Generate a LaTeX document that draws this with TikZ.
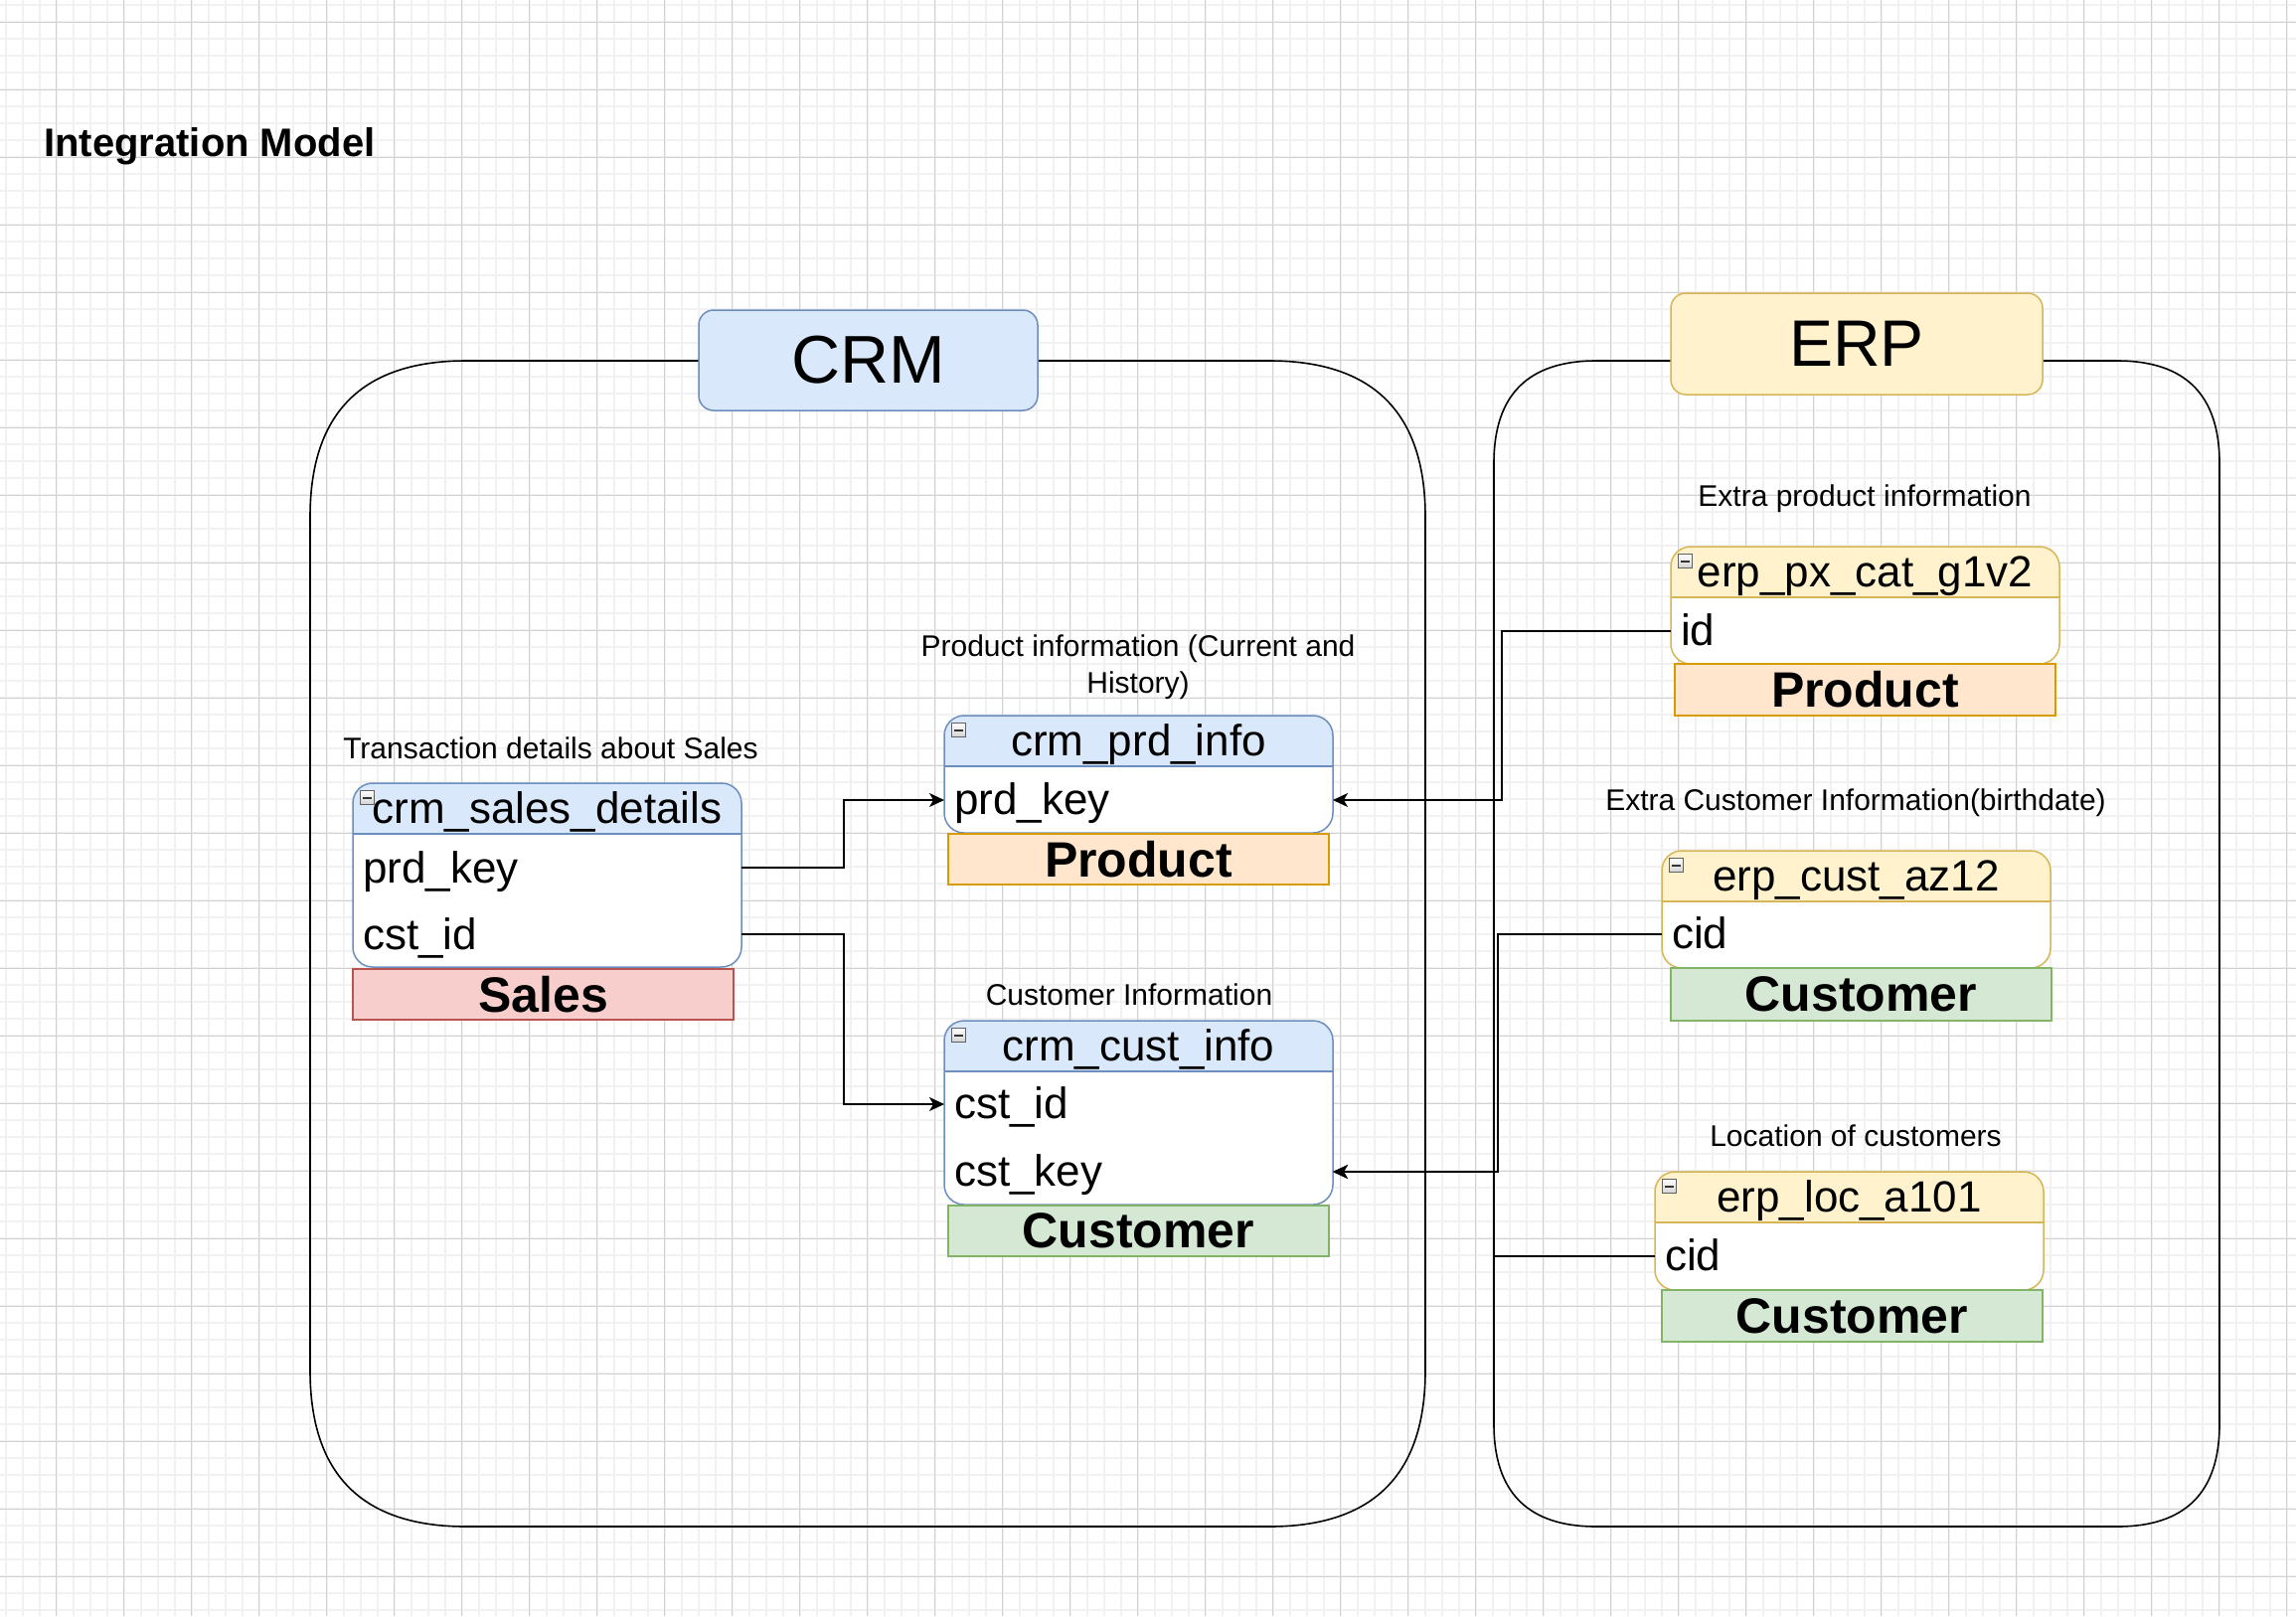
\documentclass[tikz,border=0pt]{standalone}
\usepackage{fontspec}
\setmainfont{Liberation Sans}
\usetikzlibrary{arrows.meta}
\definecolor{gridminor}{HTML}{F1F1F1}
\definecolor{gridmajor}{HTML}{D2D2D2}
\definecolor{crmfill}{HTML}{DAE8FC}
\definecolor{crmdraw}{HTML}{6C8EBF}
\definecolor{erpfill}{HTML}{FFF2CC}
\definecolor{erpdraw}{HTML}{D6B656}
\definecolor{prodfill}{HTML}{FFE6CC}
\definecolor{proddraw}{HTML}{D79B00}
\definecolor{custfill}{HTML}{D5E8D4}
\definecolor{custdraw}{HTML}{82B366}
\definecolor{salesfill}{HTML}{F8CECC}
\definecolor{salesdraw}{HTML}{B85450}
\tikzset{
  grmin/.style={draw=gridminor, line width=2pt},
  grmaj/.style={draw=gridmajor, line width=1.2pt},
  container/.style={draw=black, line width=1.6pt},
  sysbox/.style={rounded corners=15pt, line width=1.5pt, inner sep=0pt, outer sep=0pt},
  hdrtxt/.style={font=\fontsize{44}{50}\selectfont, inner sep=0pt, anchor=base},
  rowtxt/.style={font=\fontsize{44}{50}\selectfont, inner sep=0pt, anchor=base west},
  note/.style={font=\fontsize{30}{37}\selectfont, inner sep=0pt, anchor=base},
  tag/.style={font=\bfseries\fontsize{50}{55}\selectfont, line width=1.5pt, minimum width=383pt, anchor=north west, inner sep=0pt, outer sep=0pt},
  conn/.style={line width=1.5pt, -{Stealth[length=15pt,width=14pt,inset=4pt]}},
  tblicon/.style={draw=gray!75!black, top color=white, bottom color=gray!35, line width=1pt, minimum width=14pt, minimum height=14pt, inner sep=0pt, anchor=north west},
}
% #1 name, #2 x, #3 y, #4 w, #5 h, #6 title, #7 fill, #8 stroke
\newcommand{\dbtbl}[8]{%
  \node[fill=white, rounded corners=20pt, minimum width=#4pt, minimum height=#5pt, anchor=north west, inner sep=0pt, outer sep=0pt] (#1) at (#2,#3) {};
  \begin{scope}
    \clip (#2,#3) rectangle ++(#4,51);
    \fill[#7, rounded corners=20pt] (#1.north west) rectangle (#1.south east);
  \end{scope}
  \draw[#8, line width=1.5pt] (#2,#3+51) -- ++(#4,0);
  \draw[#8, line width=1.5pt, rounded corners=20pt] (#1.north west) rectangle (#1.south east);
  \node[hdrtxt] (#1-title) at (#2+#4/2,#3+40) {#6};
  \node[tblicon] (#1-icon) at (#2+7,#3+7) {};
  \draw[line width=2pt, black!80] ([xshift=3pt]#1-icon.west) -- ([xshift=-3pt]#1-icon.east);
}
% quadratic-corner rounded rectangle: x1,y1,x2,y2,r
\newcommand{\qrect}[5]{%
  \draw[container] (#1+#5,#2) -- (#3-#5,#2)
    .. controls (#3-#5/3,#2) and (#3,#2+#5/3) .. (#3,#2+#5)
    -- (#3,#4-#5)
    .. controls (#3,#4-#5/3) and (#3-#5/3,#4) .. (#3-#5,#4)
    -- (#1+#5,#4)
    .. controls (#1+#5/3,#4) and (#1,#4-#5/3) .. (#1,#4-#5)
    -- (#1,#2+#5)
    .. controls (#1,#2+#5/3) and (#1+#5/3,#2) .. (#1+#5,#2) -- cycle;
}
\begin{document}
\begin{tikzpicture}[x=1pt, y=-1pt]
\useasboundingbox (0,0) rectangle (2310,1626);
\fill[white] (0,0) rectangle (2310,1626);
% grid
\foreach \k in {0,...,135} \draw[grmin] ({5.7+17*\k},0) -- ({5.7+17*\k},1626);
\foreach \k in {0,...,95} \draw[grmin] (0,{5.4+17*\k}) -- (2310,{5.4+17*\k});
\foreach \k in {0,...,33} \draw[grmaj] ({56.7+68*\k},0) -- ({56.7+68*\k},1626);
\foreach \k in {0,...,23} \draw[grmaj] (0,{22.4+68*\k}) -- (2310,{22.4+68*\k});

% title
\node[anchor=base west, font=\bfseries\fontsize{40}{46}\selectfont, inner sep=0pt] (title) at (44,157) {Integration Model};

% containers
\qrect{312}{363}{1434}{1536}{157}
\qrect{1503}{363}{2233}{1536}{103}

% system labels
\node[sysbox, fill=crmfill, draw=crmdraw, minimum width=341pt, minimum height=101pt, font=\fontsize{68}{72}\selectfont] (crm) at (873.5,362.5) {CRM};
\node[sysbox, fill=erpfill, draw=erpdraw, minimum width=374pt, minimum height=102pt, font=\fontsize{66}{72}\selectfont] (erp) at (1868,346) {ERP};

% tables
\dbtbl{sales}{355}{788}{391}{185}{crm\_sales\_details}{crmfill}{crmdraw}
\dbtbl{prd}{950}{720}{391}{118}{crm\_prd\_info}{crmfill}{crmdraw}
\dbtbl{cust}{950}{1027}{391}{185}{crm\_cust\_info}{crmfill}{crmdraw}
\dbtbl{px}{1681}{550}{391}{118}{erp\_px\_cat\_g1v2}{erpfill}{erpdraw}
\dbtbl{az}{1672}{856}{391}{118}{erp\_cust\_az12}{erpfill}{erpdraw}
\dbtbl{loc}{1665}{1179}{391}{119}{erp\_loc\_a101}{erpfill}{erpdraw}

% row anchors (left edge, row centre)
\coordinate (sales-r1) at (355,873);
\coordinate (sales-r2) at (355,940);
\coordinate (prd-r1) at (950,805);
\coordinate (cust-r1) at (950,1111);
\coordinate (cust-r2) at (950,1179);
\coordinate (px-r1) at (1681,635);
\coordinate (az-r1) at (1672,940);
\coordinate (loc-r1) at (1665,1264);

% row texts
\node[rowtxt] (sales-t1) at ([xshift=10pt,yshift=-15pt]sales-r1) {prd\_key};
\node[rowtxt] (sales-t2) at ([xshift=10pt,yshift=-15pt]sales-r2) {cst\_id};
\node[rowtxt] (prd-t1) at ([xshift=10pt,yshift=-14pt]prd-r1) {prd\_key};
\node[rowtxt] (cust-t1) at ([xshift=10pt,yshift=-14pt]cust-r1) {cst\_id};
\node[rowtxt] (cust-t2) at ([xshift=10pt,yshift=-14pt]cust-r2) {cst\_key};
\node[rowtxt] (px-t1) at ([xshift=10pt,yshift=-14pt]px-r1) {id};
\node[rowtxt] (az-t1) at ([xshift=10pt,yshift=-14pt]az-r1) {cid};
\node[rowtxt] (loc-t1) at ([xshift=10pt,yshift=-14pt]loc-r1) {cid};

% tag boxes
\node[tag, fill=salesfill, draw=salesdraw, minimum height=51pt] (salestag) at (355,975) {Sales};
\node[tag, fill=prodfill, draw=proddraw, minimum height=51pt] (prdtag) at (954,839) {Product};
\node[tag, fill=custfill, draw=custdraw, minimum height=51pt] (custtag) at (954,1213) {Customer};
\node[tag, fill=prodfill, draw=proddraw, minimum height=52pt] (pxtag) at (1685,668) {Product};
\node[tag, fill=custfill, draw=custdraw, minimum height=53pt] (aztag) at (1681,974) {Customer};
\node[tag, fill=custfill, draw=custdraw, minimum height=52pt] (loctag) at (1672,1298) {Customer};

% notes
\node[note] (n-sales) at (554,763) {Transaction details about Sales};
\node[note] (n-prd1) at (1145,660) {Product information (Current and};
\node[note] (n-prd2) at (1145,697) {History)};
\node[note] (n-cust) at (1136,1011) {Customer Information};
\node[note] (n-px) at (1876,509) {Extra product information};
\node[note] (n-az) at (1867,815) {Extra Customer Information(birthdate)};
\node[note] (n-loc) at (1867,1153) {Location of customers};

% connectors
\draw[conn] (sales.east |- sales-r1) -- ++(103,0) |- (prd-r1);
\draw[conn] (sales.east |- sales-r2) -- ++(103,0) |- (cust-r1);
\draw[conn] (px-r1) -- ++(-170,0) |- (prd.east |- prd-r1);
\draw[conn] (az-r1) -- ++(-165,0) |- (cust.east |- cust-r2);
\draw[conn] (loc-r1) -- ++(-162,0) |- (cust.east |- cust-r2);
\end{tikzpicture}
\end{document}
